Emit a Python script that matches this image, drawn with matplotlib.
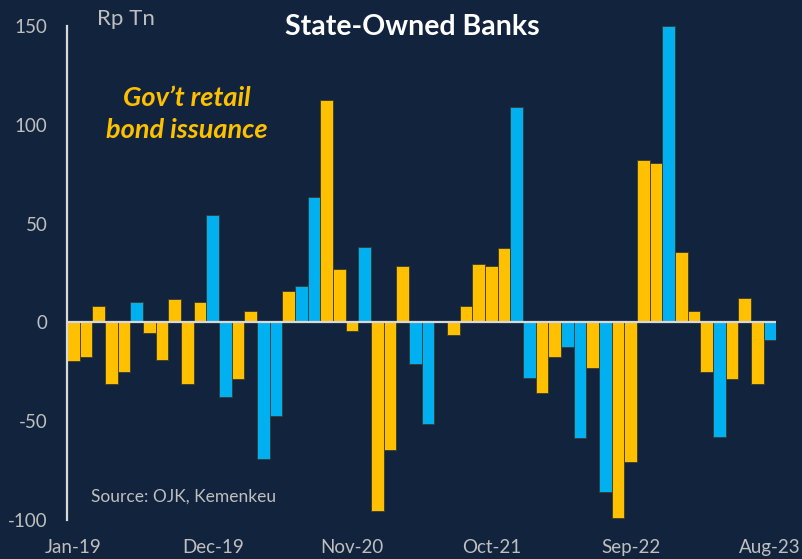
import matplotlib.pyplot as plt
import numpy as np
import pandas as pd

# Monthly change, Rp Tn, Jan-19 .. Aug-23
values = [-19.4, -17.6, 8.4, -31.0, -25.1, 10.5, -5.4, -19.0, 11.8, -31.2,
          10.5, 54.5, -37.6, -28.5, 5.7, -68.9, -47.3, 15.8, 18.2, 63.4,
          112.3, 26.9, -4.2, 38.0, -95.3, -64.6, 28.6, -21.0, -51.4, 0.0,
          -6.4, 8.4, 29.8, 28.4, 37.4, 109.2, -28.1, -35.5, -17.4, -12.3,
          -58.4, -23.1, -85.9, -99.0, -70.6, 82.3, 80.5, 150.2, 35.4, 5.7,
          -25.1, -57.8, -28.6, 12.6, -31.0, -8.8]
# 1 = month with government retail bond issuance
retail_issue = [1, 1, 1, 1, 1, 0, 1, 1, 1, 1,
                1, 0, 0, 1, 1, 0, 0, 1, 0, 0,
                1, 1, 1, 0, 1, 1, 1, 0, 0, 1,
                1, 1, 1, 1, 1, 0, 0, 1, 1, 0,
                0, 1, 0, 1, 1, 1, 1, 0, 1, 1,
                1, 0, 1, 1, 1, 0]

months = pd.date_range('2019-01-01', periods=len(values), freq='MS').strftime('%b-%y')

BG = '#12243D'
YELLOW = '#FFC000'
BLUE = '#00B0F0'
GREY = '#BFBFBF'

plt.rcParams['font.family'] = ['Lato', 'DejaVu Sans']
plt.rcParams['axes.unicode_minus'] = False

fig = plt.figure(figsize=(8.03, 5.59), dpi=100, facecolor=BG)
ax = fig.add_axes([67 / 803, 39 / 559, 709.3 / 803, 494 / 559], facecolor=BG)

x = np.arange(len(values))
colors = [YELLOW if r else BLUE for r in retail_issue]
ax.bar(x, values, width=1.0, color=colors, edgecolor='#3A3A2A', linewidth=0.6, zorder=2)
ax.axhline(0, color='#D9D9D9', lw=1.6, zorder=3)

ax.set_xlim(-0.5, len(values) - 0.5)
ax.set_ylim(-100, 150)
ax.set_yticks([-100, -50, 0, 50, 100, 150])
ax.set_xticks(x[::11])
ax.set_xticklabels(months[::11])
ax.tick_params(axis='both', length=0, colors=GREY, labelsize=13.5)
ax.tick_params(axis='y', pad=14)
ax.tick_params(axis='x', pad=14)

for s in ['top', 'right', 'bottom']:
    ax.spines[s].set_visible(False)
ax.spines['left'].set_color('#D9D9D9')
ax.spines['left'].set_linewidth(1.6)

fig.text(412 / 803, 1 - 27 / 559, 'State-Owned Banks', color='white', fontsize=20.5,
         fontweight='bold', ha='center', va='center')
fig.text(97 / 803, 1 - 19 / 559, 'Rp Tn', color=GREY, fontsize=16, ha='left', va='center')
fig.text(187 / 803, 1 - 114 / 559, 'Gov\u2019t retail\nbond issuance', color=YELLOW,
         fontsize=19.5, fontweight='bold', fontstyle='italic', ha='center', va='center',
         linespacing=1.35)
fig.text(91 / 803, 1 - 497 / 559, 'Source: OJK, Kemenkeu', color=GREY, fontsize=12.5,
         ha='left', va='center')

fig.savefig('out.png', dpi=100, facecolor=BG)
